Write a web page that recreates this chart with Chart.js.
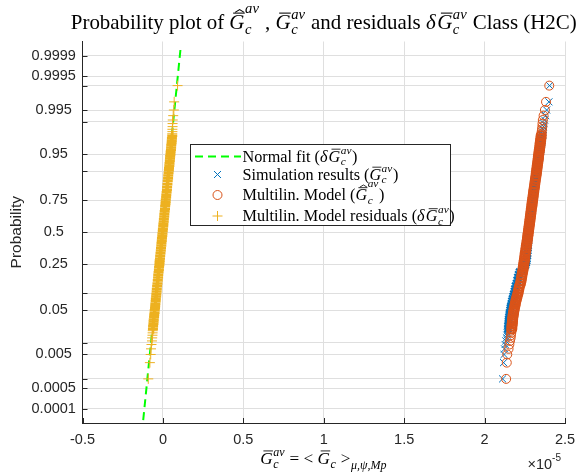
<!DOCTYPE html>
<html><head><meta charset="utf-8">
<script src="https://cdn.jsdelivr.net/npm/chart.js@4/dist/chart.umd.min.js"></script>
<style>html,body{margin:0;padding:0;background:#fff}#wrap{width:577px;height:474px;position:relative}</style>
</head><body><div id="wrap"><canvas id="c" width="577" height="474"></canvas></div>
<script>
// ---- data (x values in units of 1e-5; probabilities are the plotting positions) ----
const PROB = [0.001,0.003,0.005,0.007,0.009,0.011,0.013,0.015,0.017,0.019,
 0.021,0.024,0.027,0.03,0.033,0.037,0.041,0.045,0.05,0.055,0.06,0.066,0.073,0.08,0.088,0.096,0.106,0.116,0.128,0.14,0.155,0.17,0.185,0.2,
 0.215,0.23,0.245,0.26,0.275,0.29,0.31,0.33,0.35,0.37,0.39,0.41,0.43,0.45,0.47,0.49,0.51,0.53,0.55,0.57,0.59,0.61,0.63,0.65,0.67,0.69,0.71,0.725,0.74,0.755,0.77,0.785,
 0.8,0.815,0.83,0.845,0.86,0.872,0.884,0.894,0.904,0.912,0.92,0.927,0.934,0.94,0.945,0.95,0.955,0.959,0.963,0.967,0.97,0.973,0.976,0.979,
 0.981,0.983,0.985,0.987,0.989,0.991,0.993,0.995,0.997,0.999];
const SIM_X = [2.112,2.118,2.121,2.124,2.128,2.132,2.136,2.139,2.141,2.143,
 2.145,2.146,2.148,2.149,2.150,2.152,2.154,2.156,2.159,2.161,2.164,2.167,2.170,2.174,2.178,2.182,2.186,2.189,2.193,2.199,2.203,2.207,2.212,2.218,
 2.232,2.246,2.254,2.258,2.261,2.263,2.265,2.267,2.268,2.269,2.270,2.271,2.272,2.273,2.274,2.275,2.276,2.278,2.279,2.281,2.283,2.285,2.287,2.289,2.291,2.293,2.296,2.297,2.299,2.301,2.303,2.305,
 2.307,2.309,2.312,2.314,2.317,2.320,2.323,2.325,2.328,2.330,2.332,2.334,2.337,2.339,2.341,2.343,2.345,2.347,2.349,2.351,2.353,2.355,2.357,2.359,
 2.361,2.363,2.365,2.367,2.369,2.373,2.380,2.386,2.400,2.404];
const MODEL_X = [2.134,2.138,2.141,2.149,2.154,2.158,2.162,2.164,2.166,2.167,
 2.169,2.170,2.172,2.173,2.174,2.176,2.178,2.180,2.183,2.185,2.188,2.191,2.194,2.198,2.202,2.206,2.210,2.213,2.217,2.223,2.227,2.230,2.233,2.236,
 2.239,2.241,2.243,2.245,2.247,2.249,2.251,2.253,2.256,2.258,2.260,2.263,2.265,2.267,2.269,2.271,2.273,2.275,2.277,2.279,2.281,2.283,2.285,2.287,2.289,2.291,2.294,2.295,2.297,2.299,2.301,2.303,
 2.305,2.307,2.310,2.312,2.315,2.317,2.320,2.322,2.324,2.326,2.328,2.330,2.332,2.334,2.335,2.337,2.339,2.341,2.343,2.345,2.346,2.348,2.350,2.352,
 2.354,2.355,2.357,2.359,2.360,2.362,2.367,2.375,2.382,2.402];
const RESID_X = [-0.091,-0.081,-0.076,-0.074,-0.071,-0.068,-0.067,-0.065,-0.064,-0.063,
 -0.062,-0.061,-0.059,-0.058,-0.057,-0.055,-0.054,-0.052,-0.051,-0.049,-0.048,-0.047,-0.045,-0.044,-0.042,-0.041,-0.039,-0.038,-0.036,-0.034,-0.032,-0.030,-0.029,-0.027,
 -0.025,-0.024,-0.022,-0.021,-0.020,-0.018,-0.017,-0.015,-0.013,-0.012,-0.010,-0.009,-0.007,-0.006,-0.004,-0.003,-0.001,0.000,0.002,0.003,0.005,0.006,0.008,0.009,0.011,0.013,0.014,0.016,0.017,0.018,0.020,0.021,
 0.023,0.025,0.026,0.028,0.030,0.032,0.033,0.035,0.037,0.038,0.040,0.041,0.043,0.044,0.045,0.047,0.048,0.050,0.051,0.052,0.054,0.055,0.056,0.058,
 0.058,0.059,0.059,0.060,0.060,0.061,0.064,0.068,0.070,0.091];
const FIT_X = [-0.1225, 0.110];
const FIT_P = [0.0000375, 0.999948];
const Y_TICK_PROBS = [0.0001,0.0005,0.001,0.005,0.01,0.05,0.1,0.25,0.5,0.75,0.9,0.95,0.99,0.995,0.999,0.9995,0.9999];
const Y_TICK_LABELS = ['0.0001','0.0005','','0.005','','0.05','','0.25','0.5','0.75','','0.95','','0.995','','0.9995','0.9999'];
const X_TICKS = [-0.5,0,0.5,1,1.5,2,2.5];
const X_EXPONENT = '-5';
const Y_LIMIT_P = [0.0000291, 0.9999709];

function invNorm(p){
 const a=[-3.969683028665376e+01,2.209460984245205e+02,-2.759285104469687e+02,1.383577518672690e+02,-3.066479806614716e+01,2.506628277459239e+00];
 const b=[-5.447609879822406e+01,1.615858368580409e+02,-1.556989798598866e+02,6.680131188771972e+01,-1.328068155288572e+01];
 const c=[-7.784894002430293e-03,-3.223964580411365e-01,-2.400758277161838e+00,-2.549732539343734e+00,4.374664141464968e+00,2.938163982698783e+00];
 const d=[7.784695709041462e-03,3.224671290700398e-01,2.445134137142996e+00,3.754408661907416e+00];
 const pl=0.02425, ph=1-pl; let q,r;
 if(p<pl){q=Math.sqrt(-2*Math.log(p));return (((((c[0]*q+c[1])*q+c[2])*q+c[3])*q+c[4])*q+c[5])/((((d[0]*q+d[1])*q+d[2])*q+d[3])*q+1);}
 if(p<=ph){q=p-0.5;r=q*q;return (((((a[0]*r+a[1])*r+a[2])*r+a[3])*r+a[4])*r+a[5])*q/(((((b[0]*r+b[1])*r+b[2])*r+b[3])*r+b[4])*r+1);}
 q=Math.sqrt(-2*Math.log(1-p));return -(((((c[0]*q+c[1])*q+c[2])*q+c[3])*q+c[4])*q+c[5])/((((d[0]*q+d[1])*q+d[2])*q+d[3])*q+1);
}
const toPts=(xs,ps)=>xs.map((x,i)=>({x:x,y:invNorm(ps[i])}));
// markers in the dense middle of each sample overlap into a solid band
const markerWidth=w=>c=>(c.dataIndex>=10&&c.dataIndex<PROB.length-10)?w:1;

const AX='#262626';
const SERIF='"Liberation Serif","DejaVu Serif",serif';
const SANS='"Liberation Sans",Arial,sans-serif';

function layoutRich(ctx,tokens,size){
  const fR=s=>s+'px '+SERIF, fI=s=>'italic '+s+'px '+SERIF;
  const ss=size*0.7; const ops=[]; let x=0;
  for(const t of tokens){
    if(typeof t==='string'){ctx.font=fR(size);ops.push({k:'t',s:t,f:fR(size),x:x,dy:0});x+=ctx.measureText(t).width;continue;}
    let w=0;
    if(t.m){ctx.font=fI(size);w=ctx.measureText(t.m).width;ops.push({k:'t',s:t.m,f:fI(size),x:x,dy:0});}
    if(t.bar)ops.push({k:'bar',x0:x+w*0.25,x1:x+w*1.02,dy:-size*0.76,lw:Math.max(0.8,size*0.05)});
    if(t.hat)ops.push({k:'hat',cx:x+w*0.68,dy:-size*0.86,hw:w*0.3,hh:size*0.13,lw:Math.max(0.8,size*0.05)});
    const sx=x+w+size*0.03; let sw=0;
    if(t.sup){ctx.font=fI(ss);sw=Math.max(sw,ctx.measureText(t.sup).width);ops.push({k:'t',s:t.sup,f:fI(ss),x:sx,dy:-size*(t.hat?0.78:0.48)});}
    if(t.sub){ctx.font=fI(ss);sw=Math.max(sw,ctx.measureText(t.sub).width);ops.push({k:'t',s:t.sub,f:fI(ss),x:sx,dy:size*(t.m?0.22:0.3)});}
    x=sx+sw+size*0.04;
  }
  return {width:x,ops:ops};
}
function drawRich(ctx,lay,x0,base,color){
  ctx.save();ctx.fillStyle=color;ctx.strokeStyle=color;ctx.textAlign='left';ctx.textBaseline='alphabetic';
  for(const o of lay.ops){
    if(o.k==='t'){ctx.font=o.f;ctx.fillText(o.s,x0+o.x,base+o.dy);}
    else if(o.k==='bar'){ctx.lineWidth=o.lw;ctx.beginPath();ctx.moveTo(x0+o.x0,base+o.dy);ctx.lineTo(x0+o.x1,base+o.dy);ctx.stroke();}
    else if(o.k==='hat'){ctx.lineWidth=o.lw;ctx.beginPath();ctx.moveTo(x0+o.cx-o.hw,base+o.dy+o.hh*0.5);ctx.lineTo(x0+o.cx,base+o.dy-o.hh*0.5);ctx.lineTo(x0+o.cx+o.hw,base+o.dy+o.hh*0.5);ctx.stroke();}
  }
  ctx.restore();
}
function fitRich(ctx,tokens,targetW,guess){
  const l=layoutRich(ctx,tokens,guess);const s=guess*targetW/l.width;return layoutRich(ctx,tokens,s);
}
const G_HAT={m:'G',bar:true,hat:true,sub:'c',sup:'av'};
const G_BAR={m:'G',bar:true,sub:'c',sup:'av'};
const DELTA={m:'δ'};
const TITLE=['Probability plot of ',G_HAT,' , ',G_BAR,' and residuals ',DELTA,G_BAR,' Class (H2C)'];
const XLABEL=[G_BAR,' = < ',{m:'G',bar:true,sub:'c'},' >',{sub:'μ,ψ,Mp'}];
const LEGEND_ROWS=[
 {tok:['Normal fit (',DELTA,G_BAR,')'],style:'line',color:'#00ff00'},
 {tok:['Simulation results (',G_BAR,')'],style:'crossRot',color:'#0072BD'},
 {tok:['Multilin. Model (',G_HAT,')'],style:'circle',color:'#D95319'},
 {tok:['Multilin. Model residuals (',DELTA,G_BAR,')'],style:'cross',color:'#EDB120'}
];

const deco={id:'deco',
 afterDraw(chart){
  const ctx=chart.ctx;const ca=chart.chartArea;const xs=chart.scales.x, ys=chart.scales.y;
  ctx.save();ctx.strokeStyle=AX;ctx.lineWidth=1;ctx.beginPath();
  for(const p of Y_TICK_PROBS){const y=Math.round(ys.getPixelForValue(invNorm(p)))+0.5;ctx.moveTo(ca.left,y);ctx.lineTo(ca.left+5,y);}
  for(const v of X_TICKS){const x=Math.round(xs.getPixelForValue(v))+0.5;ctx.moveTo(x,ca.bottom);ctx.lineTo(x,ca.bottom-5);}
  ctx.stroke();ctx.restore();
  const tl=fitRich(ctx,TITLE,506,19);
  drawRich(ctx,tl,(ca.left+ca.right)/2-tl.width/2,29,'#000');
  const xl=fitRich(ctx,XLABEL,127,15);
  drawRich(ctx,xl,(ca.left+ca.right)/2-xl.width/2,464,'#000');
  ctx.save();ctx.fillStyle=AX;ctx.textBaseline='alphabetic';ctx.textAlign='left';
  ctx.font='14.5px '+SANS;const w1=ctx.measureText('×10').width;ctx.font='10px '+SANS;const w2=ctx.measureText(X_EXPONENT).width;
  const ex=ca.right-4-w1-w2;ctx.font='14.5px '+SANS;ctx.fillText('×10',ex,469);ctx.font='10px '+SANS;ctx.fillText(X_EXPONENT,ex+w1,461);
  ctx.translate(17,(ca.top+ca.bottom)/2);ctx.rotate(-Math.PI/2);ctx.textAlign='center';ctx.textBaseline='middle';ctx.font='15.5px '+SANS;ctx.fillText('Probability',0,0);
  ctx.restore();
  const bx=190.5,by=144.5,bw=260,bh=81;
  ctx.save();ctx.fillStyle='#fff';ctx.fillRect(bx,by,bw,bh);ctx.strokeStyle=AX;ctx.lineWidth=1;ctx.strokeRect(bx,by,bw,bh);
  const rowY=[156.5,174.5,195,216];
  const sizeRef=layoutRich(ctx,LEGEND_ROWS[1].tok,16);const ls=16*156/sizeRef.width;
  LEGEND_ROWS.forEach((r,i)=>{
    const cy=rowY[i];ctx.strokeStyle=r.color;ctx.lineWidth=1;
    if(r.style==='line'){ctx.lineWidth=2;ctx.setLineDash([8,5]);ctx.beginPath();ctx.moveTo(195,cy);ctx.lineTo(241,cy);ctx.stroke();ctx.setLineDash([]);}
    else if(r.style==='crossRot'){const d=3.5;ctx.beginPath();ctx.moveTo(217.5-d,cy-d);ctx.lineTo(217.5+d,cy+d);ctx.moveTo(217.5-d,cy+d);ctx.lineTo(217.5+d,cy-d);ctx.stroke();}
    else if(r.style==='circle'){ctx.beginPath();ctx.arc(217.5,cy,4.5,0,Math.PI*2);ctx.stroke();}
    else {ctx.beginPath();ctx.moveTo(212.5,cy);ctx.lineTo(222.5,cy);ctx.moveTo(217.5,cy-5);ctx.lineTo(217.5,cy+5);ctx.stroke();}
    const lay=layoutRich(ctx,r.tok,ls);drawRich(ctx,lay,242.5,cy+5,'#000');
  });
  ctx.restore();
 }};

new Chart(document.getElementById('c'),{
 type:'scatter',
 data:{datasets:[
  {label:'Normal fit',data:toPts(FIT_X,FIT_P),showLine:true,borderColor:'#00ff00',borderWidth:2,borderDash:[8,5],pointRadius:0,fill:false,order:1.5},
  {label:'Residuals',data:toPts(RESID_X,PROB),pointStyle:'cross',pointRadius:5,borderColor:'#EDB120',borderWidth:markerWidth(2.6),order:1},
  {label:'Model',data:toPts(MODEL_X,PROB),pointStyle:'circle',pointRadius:4.5,borderColor:'#D95319',backgroundColor:'rgba(0,0,0,0)',borderWidth:markerWidth(2.2),order:2},
  {label:'Simulation',data:toPts(SIM_X,PROB),pointStyle:'crossRot',pointRadius:5,borderColor:'#0072BD',borderWidth:markerWidth(2.2),order:3}
 ]},
 options:{responsive:false,animation:false,devicePixelRatio:1,
  layout:{padding:{left:0,right:12,top:41.5,bottom:0}},
  plugins:{legend:{display:false},tooltip:{enabled:false},title:{display:false}},
  scales:{
   x:{type:'linear',min:-0.5,max:2.5,afterFit(s){s.height=51;s.paddingLeft=0;s.paddingRight=0;},
      afterBuildTicks(s){s.ticks=X_TICKS.map(v=>({value:v}));},
      ticks:{callback:v=>String(v),font:{family:'Liberation Sans',size:14.5},color:AX,padding:8,maxRotation:0,autoSkip:false},
      grid:{color:'#dfdfdf',drawTicks:false},border:{color:AX}},
   y:{type:'linear',min:invNorm(Y_LIMIT_P[0]),max:invNorm(Y_LIMIT_P[1]),afterFit(s){s.width=82.5;s.paddingTop=0;s.paddingBottom=0;},
      afterBuildTicks(s){s.ticks=Y_TICK_PROBS.map(p=>({value:invNorm(p)}));},
      ticks:{callback:(v,i)=>Y_TICK_LABELS[i],crossAlign:'center',padding:6.6,autoSkip:false,font:{family:'Liberation Sans',size:14.5},color:AX},
      grid:{color:'#dfdfdf',drawTicks:false},border:{color:AX}}
  }},
 plugins:[deco]
});
</script></body></html>
